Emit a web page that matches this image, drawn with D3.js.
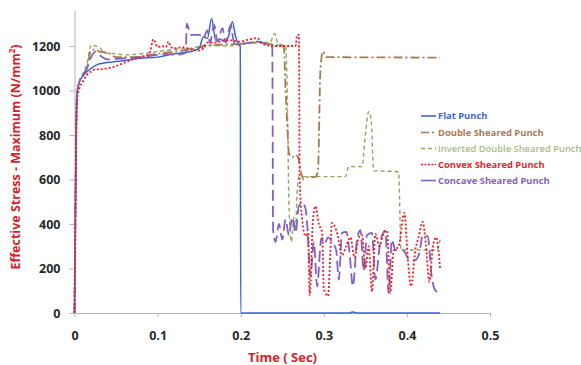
<!DOCTYPE html>
<html><head><meta charset="utf-8">
<script src="https://cdn.jsdelivr.net/npm/d3@7"></script>
<style>
html,body{margin:0;padding:0;background:#fff;}
svg{display:block;}
</style>
</head><body>
<svg id="chart" width="581" height="365"></svg>
<script>
// ---- Data (time in s, effective stress in N/mm^2) ----
const xTicks = [0, 0.1, 0.2, 0.3, 0.4, 0.5];
const yTicks = [0, 200, 400, 600, 800, 1000, 1200];
const xTickLabels = ["0", "0.1", "0.2", "0.3", "0.4", "0.5"];
const yTickLabels = ["0", "200", "400", "600", "800", "1000", "1200"];
const seriesNames = ["Flat Punch", "Double Sheared Punch", "Inverted Double Sheared Punch", "Convex Sheared Punch", "Concave Sheared Punch"];

const flatPunch = [[0,0],[0.001,420],[0.002,820],[0.003,990],[0.006,1040],[0.01,1065],[0.02,1100],[0.03,1120],[0.05,1130],[0.08,1145],[0.1,1150],[0.12,1165],[0.14,1175],[0.15,1190],[0.155,1240],[0.16,1235],[0.165,1324],[0.17,1225],[0.175,1230],[0.18,1222],[0.185,1240],[0.19,1309],[0.194,1240],[0.198,1205],[0.1995,1200],[0.2,0],[0.33,0],[0.335,5],[0.34,0],[0.44,0]];

const doubleSheared = [[0,0],[0.001,400],[0.002,800],[0.003,985],[0.006,1040],[0.01,1070],[0.015,1100],[0.02,1180],[0.025,1185],[0.03,1175],[0.04,1170],[0.05,1150],[0.07,1150],[0.1,1165],[0.12,1175],[0.14,1185],[0.16,1200],[0.2,1210],[0.22,1215],[0.24,1205],[0.25,1200],[0.252,1190],[0.254,1000],[0.256,850],[0.258,720],[0.262,700],[0.266,710],[0.269,700],[0.272,640],[0.276,600],[0.28,610],[0.29,612],[0.293,640],[0.296,1100],[0.299,1175],[0.303,1150],[0.44,1148]];

const invertedDouble = [[0,0],[0.001,400],[0.002,800],[0.003,985],[0.006,1040],[0.01,1075],[0.015,1120],[0.02,1205],[0.025,1200],[0.03,1195],[0.035,1170],[0.05,1165],[0.06,1160],[0.08,1165],[0.1,1175],[0.12,1185],[0.14,1190],[0.16,1205],[0.18,1200],[0.2,1205],[0.22,1220],[0.235,1215],[0.241,1255],[0.245,1210],[0.25,1205],[0.254,1200],[0.256,1000],[0.258,500],[0.261,320],[0.264,430],[0.266,380],[0.268,550],[0.27,613],[0.326,613],[0.33,658],[0.346,658],[0.35,800],[0.354,905],[0.357,870],[0.36,640],[0.39,635],[0.393,283],[0.436,283],[0.44,330]];

const convexSheared = [[0,0],[0.001,380],[0.002,760],[0.003,960],[0.006,1010],[0.01,1040],[0.015,1070],[0.02,1085],[0.025,1095],[0.03,1095],[0.04,1100],[0.05,1110],[0.06,1125],[0.07,1140],[0.08,1150],[0.09,1165],[0.095,1230],[0.1,1195],[0.105,1200],[0.11,1195],[0.113,1220],[0.116,1195],[0.12,1190],[0.13,1195],[0.14,1185],[0.15,1180],[0.155,1190],[0.16,1215],[0.17,1215],[0.18,1225],[0.19,1225],[0.2,1220],[0.21,1230],[0.22,1235],[0.225,1215],[0.23,1205],[0.24,1200],[0.26,1200],[0.266,1200],[0.268,1250],[0.27,1250],[0.271,600],[0.274,420],[0.278,345],[0.281,360],[0.283,80],[0.287,420],[0.29,480],[0.294,400],[0.298,360],[0.3,110],[0.305,76],[0.31,405],[0.316,360],[0.322,260],[0.327,300],[0.332,340],[0.337,250],[0.342,340],[0.346,350],[0.35,200],[0.354,300],[0.358,96],[0.362,355],[0.367,300],[0.372,360],[0.376,370],[0.38,90],[0.384,280],[0.39,300],[0.397,450],[0.401,250],[0.405,120],[0.41,280],[0.414,340],[0.419,410],[0.423,300],[0.427,140],[0.431,290],[0.435,340],[0.44,200]];

const concaveSheared = [[0,0],[0.001,410],[0.002,810],[0.003,985],[0.006,1040],[0.01,1070],[0.015,1100],[0.02,1150],[0.025,1175],[0.03,1160],[0.04,1140],[0.06,1145],[0.08,1150],[0.1,1160],[0.11,1165],[0.12,1160],[0.13,1165],[0.134,1170],[0.135,1300],[0.14,1250],[0.15,1250],[0.155,1235],[0.16,1270],[0.163,1215],[0.168,1295],[0.172,1220],[0.178,1280],[0.182,1215],[0.188,1295],[0.192,1215],[0.2,1210],[0.21,1215],[0.22,1220],[0.23,1210],[0.235,1200],[0.238,1195],[0.239,370],[0.242,320],[0.246,400],[0.25,330],[0.254,420],[0.258,350],[0.262,430],[0.266,360],[0.27,480],[0.274,495],[0.278,470],[0.28,400],[0.284,165],[0.288,320],[0.292,120],[0.297,335],[0.301,310],[0.305,340],[0.31,320],[0.315,280],[0.318,150],[0.322,360],[0.327,365],[0.331,270],[0.335,120],[0.34,330],[0.344,372],[0.348,190],[0.352,350],[0.358,360],[0.362,150],[0.368,320],[0.374,370],[0.378,90],[0.382,330],[0.386,283],[0.395,283],[0.403,240],[0.41,238],[0.415,270],[0.419,349],[0.425,345],[0.43,160],[0.434,103],[0.44,88]];

const seriesData = [flatPunch, doubleSheared, invertedDouble, convexSheared, concaveSheared];

// ---- Styles ----
const styles = [
  {color:"#3d63d4", width:1.5, dash:null, legendDash:null},
  {color:"#a87a4e", width:1.8, dash:"9,3,2,3", legendDash:"8,3,2,3"},
  {color:"#8fa85a", width:1.4, dash:"4,3", legendDash:"4,3"},
  {color:"#ee1c24", width:1.8, dash:"2,2", legendDash:"2,1.5"},
  {color:"#8460c4", width:1.8, dash:"11,5", legendDash:null}
];
const legendTextColors = ["#3d63d4", "#a87a4e", "#a9bc84", "#ee1c24", "#8460c4"];
const drawOrder = [2, 1, 0, 4, 3];

const svg = d3.select("#chart");
const x = d3.scaleLinear().domain([0, 0.5]).range([74.5, 490]);
const y = d3.scaleLinear().domain([0, 1360]).range([313, 10.4]);

// axes
const axisColor = "#b4b4b4";
const gx = svg.append("g").attr("transform", "translate(0,313)")
  .call(d3.axisBottom(x).tickValues(xTicks).tickFormat((d,i)=>xTickLabels[i]).tickSize(4).tickSizeOuter(0));
const gy = svg.append("g").attr("transform", "translate(74.5,0)")
  .call(d3.axisLeft(y).tickValues(yTicks).tickFormat((d,i)=>yTickLabels[i]).tickSize(5).tickSizeOuter(0));
[gx, gy].forEach(g => {
  g.select(".domain").attr("stroke", axisColor).attr("stroke-width", 1);
  g.selectAll(".tick line").attr("stroke", axisColor);
  g.selectAll(".tick text").attr("fill", "#2a2a2a")
    .style("font-family", "'Open Sans', 'Liberation Sans', sans-serif")
    .style("font-weight", "700").style("font-size", "12.5px");
});
gx.selectAll(".tick text").attr("dy", "0").attr("y", 27);
gy.selectAll(".tick text").attr("x", -14);

// lines
const line = d3.line().x(d => x(d[0])).y(d => y(d[1])).curve(d3.curveMonotoneX);
const plot = svg.append("g");
drawOrder.forEach(i => {
  const s = styles[i];
  plot.append("path").datum(seriesData[i])
    .attr("fill", "none").attr("stroke", s.color).attr("stroke-width", s.width)
    .attr("stroke-dasharray", s.dash).attr("stroke-linejoin", "round")
    .attr("d", line);
});

// titles
svg.append("text").attr("x", 282.5).attr("y", 362)
  .attr("text-anchor", "middle").attr("fill", "#d62228")
  .style("font-family", "'Open Sans', 'Liberation Sans', sans-serif")
  .style("font-weight", "700").style("font-size", "13px")
  .text("Time ( Sec)");
const yt = svg.append("text").attr("transform", "translate(20,157) rotate(-90)")
  .attr("text-anchor", "middle").attr("fill", "#d62228")
  .style("font-family", "'Open Sans', 'Liberation Sans', sans-serif")
  .style("font-weight", "700").style("font-size", "12.5px");
yt.append("tspan").text("Effective Stress - Maximum (N/mm");
yt.append("tspan").attr("dy", -5).style("font-size", "8px").text("2");
yt.append("tspan").attr("dy", 5).text(")");

// legend
const legendY = [116, 132.5, 148.5, 164.5, 180.5];
const lg = svg.append("g");
seriesNames.forEach((name, i) => {
  const s = styles[i];
  lg.append("line").attr("x1", 421).attr("x2", 436).attr("y1", legendY[i]).attr("y2", legendY[i])
    .attr("stroke", s.color).attr("stroke-width", 1.6).attr("stroke-dasharray", s.legendDash);
  lg.append("text").attr("x", 438).attr("y", legendY[i] + 3.3)
    .attr("fill", legendTextColors[i])
    .style("font-family", "'Open Sans', 'Liberation Sans', sans-serif")
    .style("font-weight", i === 2 ? "600" : "700").style("font-size", "9.4px")
    .text(name);
});
</script>
</body></html>
